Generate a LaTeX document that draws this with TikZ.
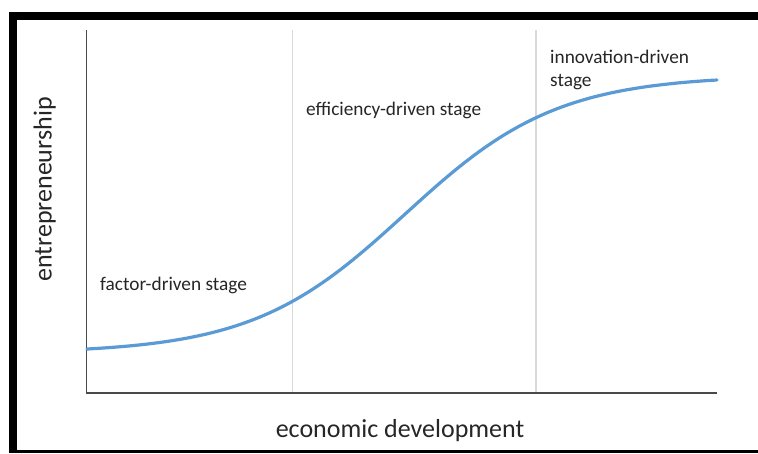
\documentclass[tikz,border=0pt]{standalone}
\usepackage{fontspec}
\setmainfont{Carlito}
\definecolor{curveblue}{HTML}{5B9BD5}
\definecolor{axisgray}{HTML}{4A4A4A}
\definecolor{gridgray}{HTML}{D9D9D9}
\definecolor{txt}{HTML}{262626}
\begin{document}
\begin{tikzpicture}[x=1pt,y=-1pt,
  lbl/.style={inner sep=0pt,anchor=base west,text=txt,font=\fontsize{19.3}{23}\selectfont},
  axlbl/.style={inner sep=0pt,anchor=base,text=txt,font=\fontsize{26}{30}\selectfont},
  axisline/.style={draw=axisgray,line width=1.8pt},
  gridline/.style={draw=gridgray,line width=1.5pt},
  curve/.style={draw=curveblue,line width=3.2pt}]
\useasboundingbox (0,0) rectangle (758,453);
% frame
\fill[black] (9,12) rectangle (758,20);
\fill[black] (9,12) rectangle (17,453);
\fill[black] (9,449.5) rectangle (758,452.5);
% coordinates
\coordinate (top) at (86.5,30);
\coordinate (origin) at (86.5,393);
\coordinate (xend) at (717,393);
\coordinate (g1top) at (292.5,30);
\coordinate (g1bot) at (292.5,393);
\coordinate (g2top) at (536,30);
\coordinate (g2bot) at (536,393);
% grid lines
\draw[gridline] (g1top) -- (g1bot);
\draw[gridline] (g2top) -- (g2bot);
% axes
\draw[axisline] (top) -- (origin) -- (xend);
% curve
\draw[curve,line cap=round] plot[domain=87:717,samples=120,smooth]
  (\x,{349-269*((1/(1+exp(-(\x-404.8)/76.4)))-0.0154)/0.968});
% labels
\node[lbl] (factor) at (100,290.5) {factor-driven stage};
\node[lbl] (eff) at (306,115) {efficiency-driven stage};
\node[lbl,align=left,anchor=north west] (innov) at (550,50) {innovation-driven\\stage};
\node[axlbl] (xlab) at (400,437) {economic development};
\node[axlbl,rotate=90] (ylab) at (51.5,189.5) {entrepreneurship};
\end{tikzpicture}
\end{document}
